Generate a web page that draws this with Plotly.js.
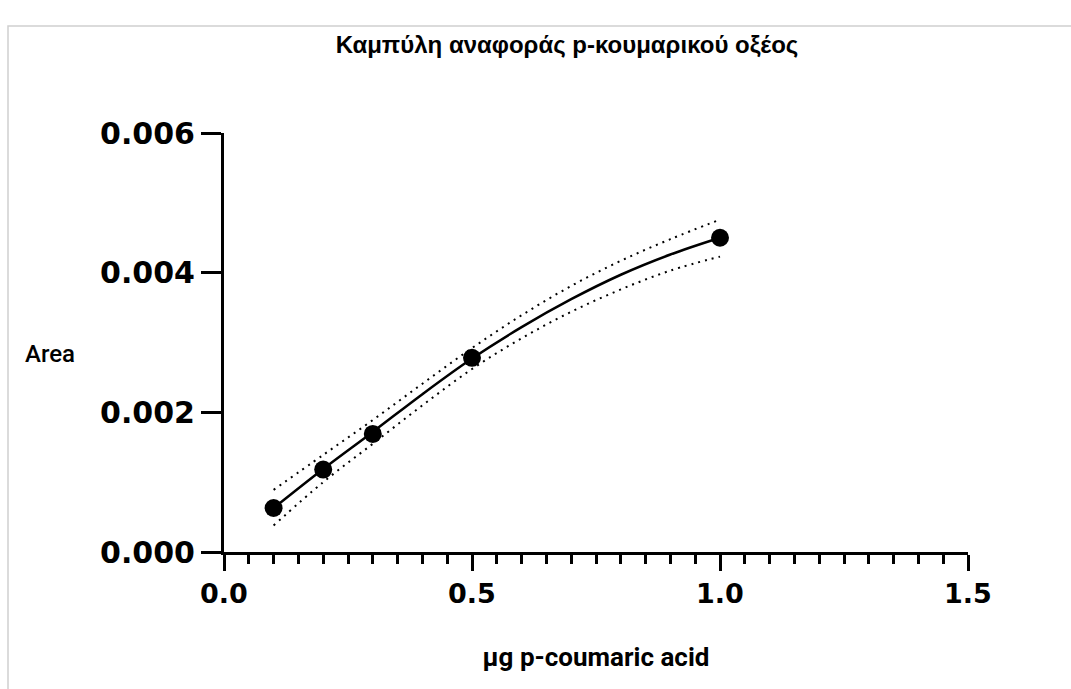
<!DOCTYPE html>
<html>
<head>
<meta charset="utf-8">
<script src="https://cdn.plot.ly/plotly-3.0.1.min.js"></script>
<style>html,body{margin:0;padding:0;background:#fff;}#chart{width:1071px;height:689px;}</style>
</head>
<body>
<div id="chart"></div>
<script>
// Measured standards
const xData = [0.1, 0.2, 0.3, 0.5, 1.0];
const yData = [0.00063, 0.00118, 0.00169, 0.00278, 0.0045];

// Fitted curve and confidence band
const curveX = [0.1, 0.2, 0.3, 0.4, 0.5, 0.6, 0.7, 0.8, 0.9, 1.0];
const curveY = [0.00063, 0.00119, 0.00172, 0.00226, 0.00277, 0.00322, 0.00362, 0.00397, 0.00426, 0.0045];
const upperY = [0.00089, 0.00139, 0.00189, 0.00241, 0.00292, 0.00339, 0.00381, 0.00417, 0.00448, 0.00476];
const lowerY = [0.00038, 0.00100, 0.00155, 0.00210, 0.00262, 0.00306, 0.00344, 0.00376, 0.00403, 0.00423];

const xTicks = [0, 0.5, 1.0, 1.5];
const xTickText = ["0.0", "0.5", "1.0", "1.5"];
const yTicks = [0, 0.002, 0.004, 0.006];
const yTickText = ["0.000", "0.002", "0.004", "0.006"];

const titleText = "Καμπύλη αναφοράς p-κουμαρικού οξέος";
const xTitle = "µg p-coumaric acid";
const yTitle = "Area";

const bandLine = {color: "#000", width: 2, dash: "2px,5px", shape: "spline"};

const traces = [
  {x: curveX, y: upperY, mode: "lines", line: bandLine, hoverinfo: "skip", showlegend: false},
  {x: curveX, y: lowerY, mode: "lines", line: bandLine, hoverinfo: "skip", showlegend: false},
  {x: curveX, y: curveY, mode: "lines", line: {color: "#000", width: 2.5, shape: "spline"}, showlegend: false},
  {x: xData, y: yData, mode: "markers", marker: {color: "#000", size: 18}, showlegend: false}
];

const L = 224, R = 103, T = 133, B = 137, W = 1071, H = 689;
const pw = W - L - R, ph = H - T - B;
const px = v => (v - L) / pw;
const py = v => (H - B - v) / ph;

const layout = {
  width: W, height: H,
  margin: {l: L, r: R, t: T, b: B},
  paper_bgcolor: "#fff", plot_bgcolor: "#fff",
  showlegend: false,
  title: {
    text: titleText,
    font: {family: "Liberation Sans, Arial, sans-serif", size: 24, color: "#000", weight: "bold"},
    x: 567 / W, xanchor: "center", xref: "container",
    y: 1 - 45 / H, yanchor: "middle", yref: "container"
  },
  xaxis: {
    range: [0, 1.5], showgrid: false, zeroline: false,
    showline: true, linewidth: 3, linecolor: "#000",
    ticks: "outside", ticklen: 16, tickwidth: 3, tickcolor: "#000",
    tickvals: xTicks, ticktext: xTickText,
    tickfont: {family: "DejaVu Sans", size: 27, color: "#000", weight: "bold"},
    minor: {dtick: 0.05, ticks: "outside", ticklen: 9, tickwidth: 3, tickcolor: "#000", showgrid: false},
    title: {text: xTitle, standoff: 40, font: {family: "Roboto", size: 26, color: "#000", weight: "bold"}}
  },
  yaxis: {
    range: [0, 0.006], showgrid: false, zeroline: false,
    showline: true, linewidth: 3, linecolor: "#000",
    ticks: "outside", ticklen: 20, tickwidth: 3, tickcolor: "#000",
    tickvals: yTicks, ticktext: yTickText,
    tickfont: {family: "DejaVu Sans", size: 30, color: "#000", weight: "bold"}
  },
  annotations: [
    {text: yTitle, xref: "paper", yref: "paper", x: px(50), y: py(354), xanchor: "center", yanchor: "middle",
     showarrow: false, font: {family: "Roboto", size: 24, color: "#000", weight: 500}}
  ],
  shapes: [
    {type: "rect", xref: "paper", yref: "paper", x0: px(8), x1: px(1080), y0: py(700), y1: py(26),
     line: {color: "#d0d0d0", width: 1.5}, fillcolor: "rgba(0,0,0,0)", layer: "below"}
  ]
};

Plotly.newPlot("chart", traces, layout, {displayModeBar: false, staticPlot: true});
</script>
</body>
</html>
